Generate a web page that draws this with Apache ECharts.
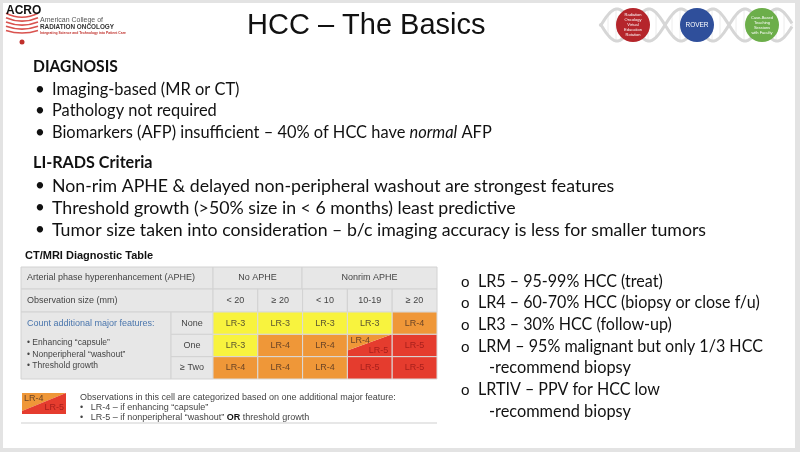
<!DOCTYPE html>
<html>
<head>
<meta charset="utf-8">
<script src="https://cdn.jsdelivr.net/npm/echarts@6/dist/echarts.min.js"></script>
<style>
  html, body { margin: 0; padding: 0; background: #fff; }
  #main { width: 800px; height: 452px; }
</style>
</head>
<body>
<div id="main"></div>
<script>
// table data: observation size columns, feature rows, LI-RADS category per cell
var sizeLabels = ['< 20', '\u2265 20', '< 10', '10-19', '\u2265 20'];
var featureRows = ['None', 'One', '\u2265 Two'];
var lrNone = ['LR-3', 'LR-3', 'LR-3', 'LR-3', 'LR-4'];
var lrOne = ['LR-3', 'LR-4', 'LR-4', 'LR-4/5', 'LR-5'];
var lrTwo = ['LR-4', 'LR-4', 'LR-4', 'LR-5', 'LR-5'];

var lrColors = { 'LR-3': '#f8f33e', 'LR-4': '#ef9738', 'LR-5': '#e53c2e' };
var lrText = { 'LR-3': '#5a5530', 'LR-4': '#6b4426', 'LR-5': '#a8201c' };

var cellRows = [lrNone, lrOne, lrTwo];
var cellData = [];
for (var r = 0; r < cellRows.length; r++) {
  for (var c = 0; c < cellRows[r].length; c++) {
    cellData.push([c, r, cellRows[r][c]]);
  }
}

var SANS = 'Liberation Sans';
var CAL = 'Lato';

function txt(x, y, s, size, opt) {
  opt = opt || {};
  return {
    type: 'text', x: x, y: y, silent: true, z: opt.z || 10,
    scaleX: opt.sx || 1,
    style: {
      text: s, fontSize: size, fontFamily: opt.family || CAL,
      fontWeight: opt.weight || 'normal', fontStyle: opt.style || 'normal',
      fill: opt.fill || '#111', align: opt.align || 'left', verticalAlign: 'middle',
      lineHeight: opt.lineHeight, rich: opt.rich
    }
  };
}
function box(x, y, w, h, fill, stroke, z) {
  return { type: 'rect', silent: true, z: z || 1, shape: { x: x, y: y, width: w, height: h },
    style: { fill: fill, stroke: stroke || null, lineWidth: 1 } };
}

var els = [];
// slide frame
els.push(box(0, 0, 800, 452, '#e3e3e3', null, 0));
els.push(box(3, 3, 792, 445, '#ffffff', null, 0));

// ACRO logo
els.push(txt(6, 11, 'ACRO', 12, { family: SANS, weight: 'bold' }));
for (var k = 0; k < 5; k++) {
  var rr = 36 + k * 4;
  var a = Math.asin(16 / rr);
  els.push({ type: 'arc', silent: true, z: 5, shape: { cx: 22, cy: -19, r: rr, startAngle: Math.PI / 2 - a, endAngle: Math.PI / 2 + a },
    style: { stroke: '#d9534f', lineWidth: 1.6, fill: null } });
}
els.push({ type: 'circle', silent: true, z: 5, shape: { cx: 22, cy: 42, r: 2.5 }, style: { fill: '#c0302b' } });
els.push(txt(40, 20, 'American College of', 7, { family: SANS, fill: '#555' }));
els.push(txt(40, 27, 'RADIATION ONCOLOGY', 6.4, { family: SANS, weight: 'bold', fill: '#333' }));
els.push(txt(40, 33, 'Integrating Science and Technology into Patient Care', 3.4, { family: SANS, weight: 'bold', fill: '#c0302b' }));

// ROVER logo: helix + circles
var p1 = [], p2 = [];
for (var xx = 600; xx <= 792; xx += 2) {
  var sv = 16 * Math.sin(Math.PI * (xx - 633) / 32);
  p1.push([xx, 25 + sv]);
  p2.push([xx, 25 - sv]);
  if (xx % 8 === 0) {
    els.push({ type: 'line', silent: true, z: 3, shape: { x1: xx, y1: 25 + sv, x2: xx, y2: 25 - sv }, style: { stroke: '#ececec', lineWidth: 1 } });
  }
}
els.push({ type: 'polyline', silent: true, z: 4, shape: { points: p1 }, style: { stroke: '#d6d6d6', lineWidth: 3, fill: null } });
els.push({ type: 'polyline', silent: true, z: 4, shape: { points: p2 }, style: { stroke: '#d6d6d6', lineWidth: 3, fill: null } });
els.push({ type: 'circle', silent: true, z: 6, shape: { cx: 633, cy: 25, r: 17 }, style: { fill: '#b5252b' } });
els.push({ type: 'circle', silent: true, z: 6, shape: { cx: 697, cy: 25, r: 17 }, style: { fill: '#2f4f9b' } });
els.push({ type: 'circle', silent: true, z: 6, shape: { cx: 762, cy: 25, r: 17 }, style: { fill: '#6cae4a' } });
els.push(txt(633, 25, 'Radiation\nOncology\nVirtual\nEducation\nRotation', 4, { family: SANS, fill: '#fff', align: 'center', lineHeight: 5, z: 7 }));
els.push(txt(697, 25, 'ROVER', 6.5, { family: SANS, fill: '#fff', align: 'center', z: 7 }));
els.push(txt(762, 25, 'Case-Based\nTeaching\nSessions\nwith Faculty', 4, { family: SANS, fill: '#fff', align: 'center', lineHeight: 5, z: 7 }));

// title
els.push(txt(247, 26, 'HCC \u2013 The Basics', 29, { family: SANS }));

// left bullets
els.push(txt(33, 67, 'DIAGNOSIS', 17, { weight: 'bold', sx: 0.92 }));
var diag = ['Imaging-based (MR or CT)', 'Pathology not required'];
var diagY = [90, 111, 133];
for (var i = 0; i < diag.length; i++) {
  els.push(txt(35, diagY[i], '\u2022', 17));
  els.push(txt(52, diagY[i], diag[i], 17, { sx: 0.965 }));
}
els.push(txt(35, diagY[2], '\u2022', 17));
els.push(txt(52, diagY[2], '{a|Biomarkers (AFP) insufficient \u2013 40% of HCC have }{b|normal}{a| AFP}', 17, {
  sx: 0.965,
  rich: { a: { fontSize: 17, fontFamily: CAL, fill: '#111' }, b: { fontSize: 17, fontFamily: CAL, fontStyle: 'italic', fill: '#111' } }
}));

els.push(txt(33, 163, 'LI-RADS Criteria', 17, { weight: 'bold', sx: 0.95 }));
var lirads = [
  'Non-rim APHE & delayed non-peripheral washout are strongest features',
  'Threshold growth (>50% size in < 6 months) least predictive',
  'Tumor size taken into consideration \u2013 b/c imaging accuracy is less for smaller tumors'
];
var liY = [186, 208, 230];
for (i = 0; i < lirads.length; i++) {
  els.push(txt(35, liY[i], '\u2022', 17));
  els.push(txt(52, liY[i], lirads[i], 18, { sx: 0.985 }));
}

// right list
var rightList = [
  ['o', 'LR5 \u2013 95-99% HCC (treat)', 282],
  ['o', 'LR4 \u2013 60-70% HCC (biopsy or close f/u)', 303],
  ['o', 'LR3 \u2013 30% HCC (follow-up)', 325],
  ['o', 'LRM \u2013 95% malignant but only 1/3 HCC', 347],
  ['', '-recommend biopsy', 368],
  ['o', 'LRTIV \u2013 PPV for HCC low', 390],
  ['', '-recommend biopsy', 412]
];
for (i = 0; i < rightList.length; i++) {
  if (rightList[i][0]) {
    els.push(txt(461, rightList[i][2], 'o', 15));
    els.push(txt(478, rightList[i][2], rightList[i][1], 17, { sx: 0.945 }));
  } else {
    els.push(txt(489, rightList[i][2], rightList[i][1], 17, { sx: 0.96 }));
  }
}

// table header
var G = '#e7e7e7', L = '#d2d2d2', T = '#444';
els.push(txt(25, 256, 'CT/MRI Diagnostic Table', 11, { family: SANS, weight: 'bold' }));
els.push(box(21, 267, 192, 22, G, L));
els.push(box(213, 267, 89, 22, G, L));
els.push(box(302, 267, 135, 22, G, L));
els.push(box(21, 289, 192, 23, G, L));
for (i = 0; i < 5; i++) els.push(box(213 + i * 44.8, 289, 44.8, 23, G, L));
els.push(box(21, 312, 150, 67, G, L));
for (i = 0; i < 3; i++) els.push(box(171, 312 + i * 22.33, 42, 22.33, G, L));
els.push(txt(27, 278, 'Arterial phase hyperenhancement (APHE)', 9, { family: SANS, fill: T }));
els.push(txt(257.5, 278, 'No APHE', 9, { family: SANS, fill: T, align: 'center' }));
els.push(txt(369.5, 278, 'Nonrim APHE', 9, { family: SANS, fill: T, align: 'center' }));
els.push(txt(27, 300.5, 'Observation size (mm)', 9, { family: SANS, fill: T }));
els.push(txt(27, 324, 'Count additional major features:', 9, { family: SANS, fill: '#4a76ad' }));
els.push(txt(27, 343, '\u2022 Enhancing \u201ccapsule\u201d', 8.5, { family: SANS, fill: T }));
els.push(txt(27, 355, '\u2022 Nonperipheral \u201cwashout\u201d', 8.5, { family: SANS, fill: T }));
els.push(txt(27, 366, '\u2022 Threshold growth', 8.5, { family: SANS, fill: T }));

// legend under the table
els.push({ type: 'polygon', silent: true, z: 2, shape: { points: [[22, 393], [66, 393], [22, 411]] }, style: { fill: lrColors['LR-4'] } });
els.push({ type: 'polygon', silent: true, z: 2, shape: { points: [[66, 393], [66, 414], [22, 414], [22, 411]] }, style: { fill: lrColors['LR-5'] } });
els.push(txt(24, 399, 'LR-4', 9, { family: SANS, fill: lrText['LR-4'] }));
els.push(txt(64, 408, 'LR-5', 9, { family: SANS, fill: lrText['LR-5'], align: 'right' }));
els.push(txt(80, 398, 'Observations in this cell are categorized based on one additional major feature:', 9, { family: SANS, fill: T }));
els.push(txt(80, 408, '\u2022   LR-4 \u2013 if enhancing \u201ccapsule\u201d', 9, { family: SANS, fill: T }));
els.push(txt(80, 418, '{a|\u2022   LR-5 \u2013 if nonperipheral \u201cwashout\u201d }{b|OR}{a| threshold growth}', 9, {
  family: SANS, fill: T,
  rich: { a: { fontSize: 9, fontFamily: SANS, fill: T }, b: { fontSize: 9, fontFamily: SANS, fontWeight: 'bold', fill: '#111' } }
}));
els.push({ type: 'line', silent: true, z: 2, shape: { x1: 21, y1: 423, x2: 437, y2: 423 }, style: { stroke: '#cfcfcf', lineWidth: 1 } });

function renderCell(params, api) {
  var label = cellData[params.dataIndex][2];
  var pt = api.coord([api.value(0), api.value(1)]);
  var sz = api.size([1, 1]);
  var x0 = pt[0] - sz[0] / 2, y0 = pt[1] - sz[1] / 2, w = sz[0], h = sz[1];
  if (label === 'LR-4/5') {
    return {
      type: 'group',
      children: [
        { type: 'polygon', shape: { points: [[x0, y0 + h], [x0 + w, y0 + h], [x0 + w, y0], [x0, y0 + h * 0.72]] }, style: { fill: lrColors['LR-5'] } },
        { type: 'polygon', shape: { points: [[x0, y0], [x0 + w, y0], [x0, y0 + h * 0.72]] }, style: { fill: lrColors['LR-4'] } },
        { type: 'rect', shape: { x: x0, y: y0, width: w, height: h }, style: { fill: null, stroke: '#dadada', lineWidth: 1 } },
        { type: 'text', x: x0 + 3, y: y0 + 6, style: { text: 'LR-4', fontSize: 9, fontFamily: SANS, fill: lrText['LR-4'], verticalAlign: 'middle' } },
        { type: 'text', x: x0 + w - 4, y: y0 + h - 6, style: { text: 'LR-5', fontSize: 9, fontFamily: SANS, fill: lrText['LR-5'], align: 'right', verticalAlign: 'middle' } }
      ]
    };
  }
  return {
    type: 'group',
    children: [
      { type: 'rect', shape: { x: x0, y: y0, width: w, height: h }, style: { fill: lrColors[label], stroke: '#dadada', lineWidth: 1 } },
      { type: 'text', x: pt[0], y: pt[1], style: { text: label, fontSize: 9, fontFamily: SANS, fill: lrText[label], align: 'center', verticalAlign: 'middle' } }
    ]
  };
}

var myChart = echarts.init(document.getElementById('main'));
var option = {
  animation: false,
  backgroundColor: '#ffffff',
  grid: { left: 213, top: 312, width: 224, height: 67 },
  xAxis: {
    type: 'category', position: 'top', data: sizeLabels, z: 20,
    axisLine: { show: false }, axisTick: { show: false }, splitLine: { show: false },
    axisLabel: { margin: 11, fontSize: 9, fontFamily: SANS, color: T, verticalAlign: 'middle' }
  },
  yAxis: {
    type: 'category', inverse: true, data: featureRows, z: 20,
    axisLine: { show: false }, axisTick: { show: false }, splitLine: { show: false },
    axisLabel: { margin: 21, align: 'center', fontSize: 9, fontFamily: SANS, color: T }
  },
  graphic: { elements: els },
  series: [{
    type: 'custom', renderItem: renderCell, data: cellData, z: 5,
    encode: { x: 0, y: 1 }, silent: true
  }]
};
myChart.setOption(option);
</script>
</body>
</html>
